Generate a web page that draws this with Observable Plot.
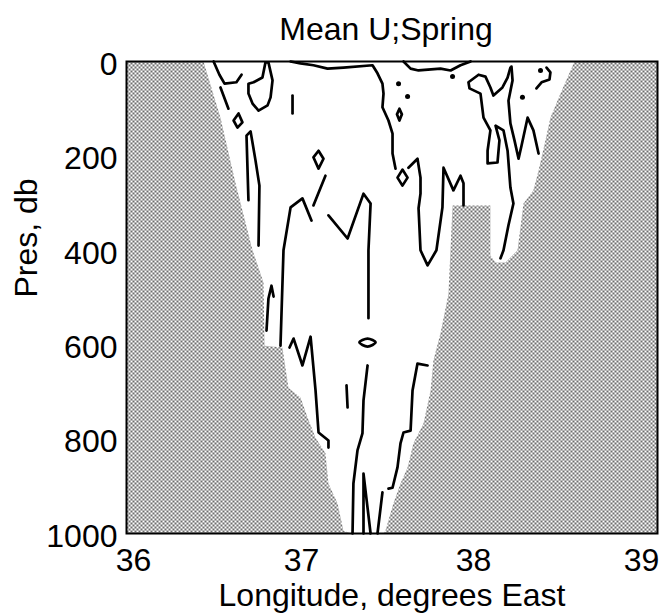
<!DOCTYPE html>
<html><head><meta charset="utf-8">
<script src="https://cdn.jsdelivr.net/npm/d3@7"></script>
<script src="https://cdn.jsdelivr.net/npm/@observablehq/plot@0.6"></script>
<style>body{margin:0;background:#fff}</style>
</head><body><div id="chart"></div>
<script>
const title = "Mean U;Spring";
const xLabel = "Longitude, degrees East";
const yLabel = "Pres, db";
const xTicks = [36, 37, 38, 39];
const yTicks = [0, 200, 400, 600, 800, 1000];

// sea floor / side walls (shaded)
const leftLandLon  = [36, 36.435, 36.531, 36.616, 36.712, 36.774, 36.780, 36.881, 36.915, 36.983, 37.023, 37.068, 37.124, 37.141, 37.192, 37.226, 37.271, 36];
const leftLandPres = [0, 0, 119, 258, 400, 468, 602, 606, 691, 712, 754, 797, 830, 894, 936, 994, 1000, 1000];
const rightLandLon  = [39, 38.531, 38.452, 38.395, 38.367, 38.328, 38.299, 38.243, 38.209, 38.141, 38.085, 38.056, 38.056, 37.842, 37.819, 37.774, 37.734, 37.718, 37.678, 37.621, 37.588, 37.548, 37.508, 37.463, 37.452, 39];
const rightLandPres = [0, 0, 68, 119, 167, 231, 273, 301, 400, 426, 426, 411, 305, 305, 492, 576, 633, 697, 767, 809, 860, 894, 936, 994, 1000, 1000];

// open contour lines [lon, pres]
const c01 = [[36.492,0],[36.525,28],[36.554,47],[36.621,44],[36.650,28]];
const c02 = [[36.531,55],[36.576,100]];
const c04 = [[36.938,72],[36.938,110]];
const c06 = [[36.689,294],[36.678,157],[36.701,148],[36.729,210],[36.751,263],[36.746,390]];
const c07 = [[36.791,570],[36.802,502],[36.819,475],[36.831,498]];
const c08 = [[36.870,602],[36.887,400],[36.927,309],[36.994,290],[37.045,337]];
const c09 = [[37.056,305],[37.085,278],[37.124,242]];
const c11 = [[37.141,326],[37.249,375],[37.339,280],[37.379,301],[37.367,400],[37.367,544]];
const c13 = [[37.362,644],[37.339,718],[37.333,788],[37.305,824],[37.282,894],[37.277,1000]];
const c14 = [[37.243,686],[37.249,733]];
const c15 = [[36.921,606],[36.944,587],[36.994,644],[37.040,583],[37.068,697],[37.085,786],[37.141,803],[37.141,818]];
const c16 = [[37.339,1000],[37.339,873],[37.379,1000]];
const c17 = [[37.446,913],[37.418,1000]];
const c18 = [[37.701,644],[37.644,640],[37.616,697],[37.605,782],[37.565,786],[37.548,809],[37.531,860],[37.503,903],[37.480,905]];
const c19 = [[36.927,0],[36.983,4],[37.056,8],[37.136,15],[37.226,13],[37.390,8],[37.418,25],[37.446,47],[37.452,68],[37.446,97],[37.480,125],[37.503,153],[37.503,195],[37.520,227]];
const c21 = [[37.593,225],[37.644,206],[37.661,246],[37.661,280],[37.650,311],[37.661,400],[37.701,432],[37.751,400],[37.785,309],[37.791,225],[37.847,273],[37.887,242],[37.904,258],[37.904,305]];
const c23 = [[37.565,0],[37.605,15],[37.650,19],[37.774,15],[37.831,19],[37.887,8],[37.944,0]];
const c24 = [[38.169,13],[38.153,34],[38.124,55],[38.073,72],[38.056,55],[38.028,32],[37.989,28],[37.932,44],[37.938,57],[38.000,68],[38.017,119],[38.056,146],[38.040,189],[38.040,216],[38.096,214],[38.107,167],[38.085,136],[38.130,146],[38.153,189],[38.169,267],[38.186,301],[38.158,347],[38.130,400],[38.113,417]];
const c25 = [[38.175,11],[38.181,40],[38.158,83],[38.169,131],[38.192,167],[38.215,206],[38.232,178],[38.266,119],[38.299,146],[38.328,195]];
const c26 = [[38.316,57],[38.345,44],[38.390,38],[38.395,23],[38.373,13]];

// closed contour loops [lon, pres]
const c03 = [[36.689,47],[36.718,44],[36.768,34],[36.785,2],[36.802,2],[36.825,40],[36.814,76],[36.797,93],[36.746,104],[36.712,89],[36.689,68]];
const c05 = [[36.605,125],[36.633,110],[36.655,129],[36.627,140]];
const c10 = [[37.056,203],[37.085,189],[37.113,206],[37.085,227]];
const c12 = [[37.316,595],[37.362,587],[37.407,595],[37.362,604]];
const c20 = [[37.531,246],[37.559,229],[37.588,246],[37.559,263]];
const c22 = [[37.528,112],[37.542,100],[37.556,112],[37.542,125]];

// isolated contour dots
const dotLon  = [37.537, 37.588, 37.842, 38.237, 38.339];
const dotPres = [47, 74, 32, 76, 19];

const openContours = [c01,c02,c04,c06,c07,c08,c09,c11,c13,c14,c15,c16,c17,c18,c19,c21,c23,c24,c25,c26];
const loopContours = [c03,c05,c10,c20,c22];
const ovalContours = [c12];

const land = [
  ...leftLandLon.map((lon, i) => ({id: "L", lon, pres: leftLandPres[i]})),
  ...rightLandLon.map((lon, i) => ({id: "R", lon, pres: rightLandPres[i]}))
];
const flat = (list) => list.flatMap((c, k) => c.map(([lon, pres]) => ({id: k, lon, pres})));
const openData = flat(openContours);
const loopData = flat(loopContours);
const ovalData = flat(ovalContours);
const dots = dotLon.map((lon, i) => ({lon, pres: dotPres[i]}));

function stippleDefs() {
  const ns = "http://www.w3.org/2000/svg";
  const defs = document.createElementNS(ns, "defs");
  const pat = document.createElementNS(ns, "pattern");
  pat.setAttribute("id", "stipple");
  pat.setAttribute("width", 4);
  pat.setAttribute("height", 4);
  pat.setAttribute("patternUnits", "userSpaceOnUse");
  const rects = [[0,0,4,4,"#ffffff"],[0,0,2,2,"#6e6e6e"],[2,2,2,2,"#6e6e6e"]];
  for (const [x,y,w,h,f] of rects) {
    const r = document.createElementNS(ns, "rect");
    r.setAttribute("x", x); r.setAttribute("y", y);
    r.setAttribute("width", w); r.setAttribute("height", h);
    r.setAttribute("fill", f);
    pat.appendChild(r);
  }
  defs.appendChild(pat);
  return defs;
}

const ink = "#000";
const fmt = d => String(d);
const chart = Plot.plot({
  width: 663,
  height: 616,
  marginLeft: 126,
  marginRight: 6,
  marginTop: 61,
  marginBottom: 83,
  style: {fontFamily: "'Liberation Sans', Arial, Helvetica, sans-serif", fontSize: "32px", background: "#fff", color: ink},
  x: {domain: [36, 39]},
  y: {domain: [0, 1000], reverse: true},
  marks: [
    stippleDefs,
    Plot.line(land, {x: "lon", y: "pres", z: "id", fill: "url(#stipple)", stroke: "none", curve: "linear"}),
    Plot.line(openData, {x: "lon", y: "pres", z: "id", stroke: ink, strokeWidth: 2.7, strokeLinejoin: "round", strokeLinecap: "round"}),
    Plot.line(loopData, {x: "lon", y: "pres", z: "id", stroke: ink, strokeWidth: 2.7, curve: "linear-closed", strokeLinejoin: "round"}),
    Plot.line(ovalData, {x: "lon", y: "pres", z: "id", stroke: ink, strokeWidth: 2.7, curve: "cardinal-closed"}),
    Plot.dot(dots, {x: "lon", y: "pres", r: 2.5, fill: ink, stroke: "none"}),
    Plot.frame({stroke: ink, strokeWidth: 2}),
    Plot.axisY(yTicks, {tickSize: 0, tickPadding: 9, label: null, dy: 3, tickFormat: fmt}),
    Plot.axisX([36], {tickSize: 0, tickPadding: 15, label: null, dx: 7, tickFormat: fmt}),
    Plot.axisX([37], {tickSize: 0, tickPadding: 15, label: null, dx: -2, tickFormat: fmt}),
    Plot.axisX([38], {tickSize: 0, tickPadding: 15, label: null, dx: -7, tickFormat: fmt}),
    Plot.axisX([39], {tickSize: 0, tickPadding: 15, label: null, dx: -16, tickFormat: fmt}),
    Plot.text([title], {text: d => d, frameAnchor: "top", lineAnchor: "bottom", dy: -22, dx: -6}),
    Plot.text([xLabel], {text: d => d, frameAnchor: "bottom", lineAnchor: "top", dy: 50}),
    Plot.text([yLabel], {text: d => d, frameAnchor: "left", rotate: -90, lineAnchor: "top", dx: -112})
  ]
});
document.getElementById("chart").appendChild(chart);
</script>
</body></html>
